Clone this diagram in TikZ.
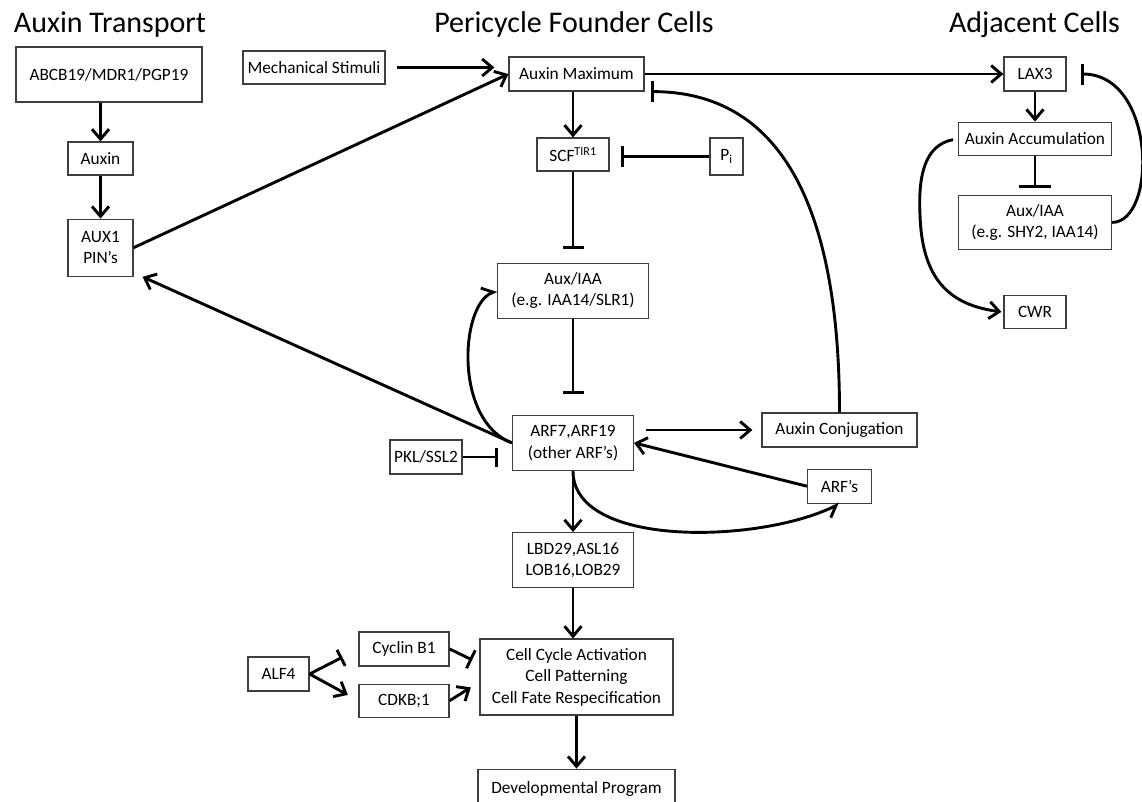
\documentclass[tikz,border=0pt]{standalone}
\usepackage{fontspec}
\setmainfont{Carlito}
\usetikzlibrary{arrows.meta,positioning}
\definecolor{cEdge}{RGB}{62,62,62}
\tikzset{
	pbox/.style={draw=cEdge, line width=1.2pt, fill=white, inner sep=2pt,
		align=center, font=\fontsize{17.3}{21.5}\selectfont},
	ptitle/.style={anchor=base, inner sep=0pt, font=\fontsize{30}{36}\selectfont},
	parr/.style={-{Straight Barb[length=10pt,width=17pt]}, line width=2.9pt},
	pharp/.style={-{Straight Barb[harpoon,length=10pt,width=17pt]}, line width=2.9pt},
	pharpr/.style={-{Straight Barb[harpoon,swap,length=10pt,width=17pt]}, line width=2.9pt},
	pinh/.style={-{Bar[width=#1]}, line width=2.9pt},
	pinh/.default=21pt,
}

\begin{document}
\begin{tikzpicture}[x=1pt, y=-1pt]
	\clip (0,0) rectangle (1142,801);
	% column titles
	\node[ptitle] (ttrans) at (110,32) {Auxin Transport};
	\node[ptitle] (tperi) at (574,32) {Pericycle Founder Cells};
	\node[ptitle] (tadj) at (1034.5,32) {Adjacent Cells};
	% auxin transport
	\node[pbox, minimum width=186pt, minimum height=55pt] (abcb) at (109,74.5) {ABCB19/MDR1/PGP19};
	\node[pbox, minimum width=65pt, minimum height=33pt] (auxin) at (100.5,158.5) {Auxin};
	\node[pbox, minimum width=65pt, minimum height=57pt, below=43pt of auxin] (aux1) {AUX1\\PIN’s};
	% pericycle founder cells
	\node[pbox, minimum width=142pt, minimum height=33pt] (mech) at (314,67.5) {Mechanical Stimuli};
	\node[pbox, minimum width=135pt, minimum height=34pt] (max) at (576.5,74) {Auxin Maximum};
	\node[pbox, minimum width=72pt, minimum height=33pt] (scf) at (573,154.5) {SCF\textsuperscript{TIR1}};
	\node[pbox, minimum width=33pt, minimum height=37pt] (pi) at (726.5,156.5) {P\textsubscript{i}};
	\node[pbox, minimum width=151pt, minimum height=55pt, below=91pt of scf] (iaam) {Aux/IAA\\(e.g. IAA14/SLR1)};
	\node[pbox, minimum width=121pt, minimum height=55pt, below=96pt of iaam] (arf) {ARF7,ARF19\\(other ARF’s)};
	\node[pbox, minimum width=155pt, minimum height=34pt] (conj) at (839.5,430) {Auxin Conjugation};
	\node[pbox, minimum width=64pt, minimum height=34pt, below=21pt of conj] (arfs) {ARF’s};
	\node[pbox, minimum width=72pt, minimum height=34pt] (pkl) at (426,457) {PKL/SSL2};
	\node[pbox, minimum width=121pt, minimum height=55pt, below=61pt of arf] (lbd) {LBD29,ASL16\\LOB16,LOB29};
	\node[pbox, minimum width=193pt, minimum height=76pt] (cell) at (576.5,677) {Cell Cycle Activation\\Cell Patterning\\Cell Fate Respecification};
	\node[pbox, minimum width=90pt, minimum height=34pt] (cyc) at (404,649) {Cyclin B1};
	\node[pbox, minimum width=90pt, minimum height=33pt, below=17pt of cyc] (cdk) {CDKB;1};
	\node[pbox, minimum width=61pt, minimum height=34pt] (alf) at (278.5,674) {ALF4};
	\node[pbox, minimum width=197pt, minimum height=40pt, below=53pt of cell] (dev) {Developmental Program};
	% adjacent cells
	\node[pbox, minimum width=62pt, minimum height=34pt] (lax3) at (1035,74) {LAX3};
	\node[pbox, minimum width=153pt, minimum height=33pt, below=30pt of lax3] (acc) {Auxin Accumulation};
	\node[pbox, minimum width=153pt, minimum height=54pt, below=39pt of acc] (iaar) {Aux/IAA\\(e.g. SHY2, IAA14)};
	\node[pbox, minimum width=62pt, minimum height=33pt, below=45pt of iaar] (cwr) {CWR};
	% transport
	\draw[parr] (abcb.south -| auxin) -- (auxin);
	\draw[parr] (auxin) -- (aux1);
	\draw[parr] (aux1.east) -- (max.west);
	\draw[parr, shorten <=11pt, shorten >=14pt] (mech) -- (mech -| max.west);
	% founder cells
	\draw[parr] (max.south -| scf) -- (scf);
	\draw[parr] (max) -- (lax3);
	\draw[pinh, shorten >=11pt] (pi) -- (pi -| scf.east);
	\draw[pinh, shorten >=14pt] (scf) -- (iaam);
	\draw[pinh, shorten >=21pt] (iaam) -- (arf);
	\draw[pharp] (arf.west) .. controls +(-58,-22) and +(-37,15) .. (iaam.west);
	\draw[parr] (arf.west) -- ([xshift=9pt]aux1.south east);
	\draw[pinh=19pt, shorten >=14pt] (pkl) -- (pkl -| arf.west);
	\draw[parr, shorten <=12pt, shorten >=9pt] (arf.east |- conj) -- (conj);
	\draw[parr] (arfs.west) -- (arf.east);
	\draw[pharpr] (arf.south) .. controls +(0,77) and +(-81,40) .. (arfs.south);
	\draw[pinh, shorten >=6pt] (conj.north) .. controls +(0,-180) and +(150,0) .. (max.south east);
	\draw[parr] (arf) -- (lbd);
	\draw[parr] (lbd.south) -- (lbd.south |- cell.north);
	\draw[parr] (cell) -- (dev);
	\draw[pinh=18pt, shorten >=18pt] (alf.east) -- (cyc.west);
	\draw[parr, shorten >=12pt] (alf.east) -- (cdk.west);
	\draw[pinh=20pt, shorten >=8pt] (cyc.east) -- (cell.172);
	\draw[parr, shorten >=10pt] (cdk.east) -- (cell.183);
	% adjacent cells
	\draw[parr] (lax3) -- (acc);
	\draw[pinh=32pt, shorten >=7pt] (acc) -- (iaar);
	\draw[pinh, shorten >=14pt] (iaar.east) .. controls +(45,0) and +(90,0) .. (lax3.east);
	\draw[parr, shorten <=5pt, shorten >=2pt] (acc.west) .. controls (925,145) and (918,175) .. (920,215)
		.. controls (922,280) and (950,305) .. (cwr.west);
\end{tikzpicture}
\end{document}
